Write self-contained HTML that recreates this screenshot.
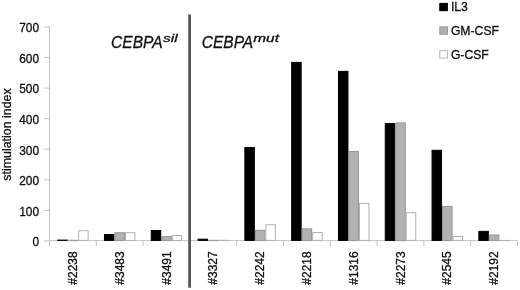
<!DOCTYPE html>
<html><head><meta charset="utf-8"><style>
html,body{margin:0;padding:0;background:#fff;}
body{width:520px;height:290px;overflow:hidden;}
svg{display:block;}
text{font-family:'Liberation Sans', Arial, sans-serif;font-size:12px;fill:#111;stroke:#111;stroke-width:0.3px;}
.t{font-size:12.4px;}
.yl{font-size:11.9px;}
.lg{font-size:12.2px;}
.cl{font-size:12px;}
</style></head><body>
<svg width="520" height="290" viewBox="0 0 520 290">
<rect width="520" height="290" fill="#fff"/>
<line x1="49.5" y1="26.2" x2="49.5" y2="245.9" stroke="#c4c4c4" stroke-width="1"/>
<line x1="44.2" y1="241.00" x2="49.5" y2="241.00" stroke="#c4c4c4" stroke-width="1"/>
<text x="39.0" y="246.30" text-anchor="end" class="yl">0</text>
<line x1="44.2" y1="210.41" x2="49.5" y2="210.41" stroke="#c4c4c4" stroke-width="1"/>
<text x="39.0" y="215.71" text-anchor="end" class="yl">100</text>
<line x1="44.2" y1="179.83" x2="49.5" y2="179.83" stroke="#c4c4c4" stroke-width="1"/>
<text x="39.0" y="185.13" text-anchor="end" class="yl">200</text>
<line x1="44.2" y1="149.24" x2="49.5" y2="149.24" stroke="#c4c4c4" stroke-width="1"/>
<text x="39.0" y="154.54" text-anchor="end" class="yl">300</text>
<line x1="44.2" y1="118.66" x2="49.5" y2="118.66" stroke="#c4c4c4" stroke-width="1"/>
<text x="39.0" y="123.96" text-anchor="end" class="yl">400</text>
<line x1="44.2" y1="88.07" x2="49.5" y2="88.07" stroke="#c4c4c4" stroke-width="1"/>
<text x="39.0" y="93.37" text-anchor="end" class="yl">500</text>
<line x1="44.2" y1="57.49" x2="49.5" y2="57.49" stroke="#c4c4c4" stroke-width="1"/>
<text x="39.0" y="62.79" text-anchor="end" class="yl">600</text>
<line x1="44.2" y1="26.90" x2="49.5" y2="26.90" stroke="#c4c4c4" stroke-width="1"/>
<text x="39.0" y="32.20" text-anchor="end" class="yl">700</text>
<line x1="49.5" y1="240.6" x2="517.50" y2="240.6" stroke="#c4c4c4" stroke-width="1"/>
<line x1="96.30" y1="240.6" x2="96.30" y2="245.9" stroke="#c4c4c4" stroke-width="1"/>
<line x1="143.10" y1="240.6" x2="143.10" y2="245.9" stroke="#c4c4c4" stroke-width="1"/>
<line x1="189.90" y1="240.6" x2="189.90" y2="245.9" stroke="#c4c4c4" stroke-width="1"/>
<line x1="236.70" y1="240.6" x2="236.70" y2="245.9" stroke="#c4c4c4" stroke-width="1"/>
<line x1="283.50" y1="240.6" x2="283.50" y2="245.9" stroke="#c4c4c4" stroke-width="1"/>
<line x1="330.30" y1="240.6" x2="330.30" y2="245.9" stroke="#c4c4c4" stroke-width="1"/>
<line x1="377.10" y1="240.6" x2="377.10" y2="245.9" stroke="#c4c4c4" stroke-width="1"/>
<line x1="423.90" y1="240.6" x2="423.90" y2="245.9" stroke="#c4c4c4" stroke-width="1"/>
<line x1="470.70" y1="240.6" x2="470.70" y2="245.9" stroke="#c4c4c4" stroke-width="1"/>
<line x1="517.50" y1="240.6" x2="517.50" y2="245.9" stroke="#c4c4c4" stroke-width="1"/>
<rect x="57.65" y="240.10" width="9.50" height="0.30" fill="#000000" stroke="#000000" stroke-width="1"/>
<rect x="67.65" y="239.80" width="10.50" height="1.10" fill="#959595"/>
<rect x="78.65" y="230.70" width="9.50" height="9.70" fill="#ffffff" stroke="#b0b0b0" stroke-width="1"/>
<rect x="104.45" y="234.50" width="9.50" height="5.90" fill="#000000" stroke="#000000" stroke-width="1"/>
<rect x="114.95" y="232.70" width="9.50" height="7.70" fill="#b2b2b2" stroke="#959595" stroke-width="1"/>
<rect x="125.45" y="232.70" width="9.50" height="7.70" fill="#ffffff" stroke="#b0b0b0" stroke-width="1"/>
<rect x="151.25" y="230.50" width="9.50" height="9.90" fill="#000000" stroke="#000000" stroke-width="1"/>
<rect x="161.75" y="236.60" width="9.50" height="3.80" fill="#b2b2b2" stroke="#959595" stroke-width="1"/>
<rect x="172.25" y="235.50" width="9.50" height="4.90" fill="#ffffff" stroke="#b0b0b0" stroke-width="1"/>
<rect x="198.05" y="239.20" width="9.50" height="1.20" fill="#000000" stroke="#000000" stroke-width="1"/>
<rect x="208.05" y="239.80" width="10.50" height="1.10" fill="#959595"/>
<rect x="218.55" y="239.80" width="10.50" height="1.10" fill="#b0b0b0"/>
<rect x="244.85" y="147.50" width="9.50" height="92.90" fill="#000000" stroke="#000000" stroke-width="1"/>
<rect x="255.35" y="230.30" width="9.50" height="10.10" fill="#b2b2b2" stroke="#959595" stroke-width="1"/>
<rect x="265.85" y="224.80" width="9.50" height="15.60" fill="#ffffff" stroke="#b0b0b0" stroke-width="1"/>
<rect x="291.65" y="62.40" width="9.50" height="178.00" fill="#000000" stroke="#000000" stroke-width="1"/>
<rect x="302.15" y="228.90" width="9.50" height="11.50" fill="#b2b2b2" stroke="#959595" stroke-width="1"/>
<rect x="312.65" y="232.55" width="9.50" height="7.85" fill="#ffffff" stroke="#b0b0b0" stroke-width="1"/>
<rect x="338.45" y="71.35" width="9.50" height="169.05" fill="#000000" stroke="#000000" stroke-width="1"/>
<rect x="348.95" y="151.56" width="9.50" height="88.84" fill="#b2b2b2" stroke="#959595" stroke-width="1"/>
<rect x="359.45" y="203.40" width="9.50" height="37.00" fill="#ffffff" stroke="#b0b0b0" stroke-width="1"/>
<rect x="385.25" y="123.60" width="9.50" height="116.80" fill="#000000" stroke="#000000" stroke-width="1"/>
<rect x="395.75" y="122.90" width="9.50" height="117.50" fill="#b2b2b2" stroke="#959595" stroke-width="1"/>
<rect x="406.25" y="212.70" width="9.50" height="27.70" fill="#ffffff" stroke="#b0b0b0" stroke-width="1"/>
<rect x="432.05" y="150.30" width="9.50" height="90.10" fill="#000000" stroke="#000000" stroke-width="1"/>
<rect x="442.55" y="206.40" width="9.50" height="34.00" fill="#b2b2b2" stroke="#959595" stroke-width="1"/>
<rect x="453.05" y="236.50" width="9.50" height="3.90" fill="#ffffff" stroke="#b0b0b0" stroke-width="1"/>
<rect x="478.85" y="231.35" width="9.50" height="9.05" fill="#000000" stroke="#000000" stroke-width="1"/>
<rect x="489.35" y="235.00" width="9.50" height="5.40" fill="#b2b2b2" stroke="#959595" stroke-width="1"/>
<rect x="499.35" y="239.90" width="10.50" height="1.00" fill="#b0b0b0"/>
<text transform="translate(77.00,251.3) rotate(-90)" text-anchor="end" class="cl">#2238</text>
<text transform="translate(123.80,251.3) rotate(-90)" text-anchor="end" class="cl">#3483</text>
<text transform="translate(170.60,251.3) rotate(-90)" text-anchor="end" class="cl">#3491</text>
<text transform="translate(217.40,251.3) rotate(-90)" text-anchor="end" class="cl">#3327</text>
<text transform="translate(264.20,251.3) rotate(-90)" text-anchor="end" class="cl">#2242</text>
<text transform="translate(311.00,251.3) rotate(-90)" text-anchor="end" class="cl">#2218</text>
<text transform="translate(357.80,251.3) rotate(-90)" text-anchor="end" class="cl">#1316</text>
<text transform="translate(404.60,251.3) rotate(-90)" text-anchor="end" class="cl">#2273</text>
<text transform="translate(451.40,251.3) rotate(-90)" text-anchor="end" class="cl">#2545</text>
<text transform="translate(498.20,251.3) rotate(-90)" text-anchor="end" class="cl">#2192</text>
<rect x="188.2" y="14.5" width="2.8" height="273.2" fill="#555555"/>
<text transform="translate(11,134.5) rotate(-90)" text-anchor="middle" class="t">stimulation index</text>
<text transform="translate(111.1,47.9) scale(0.94,1)" style="font-style:italic;font-size:16.5px">CEBPA</text>
<text transform="translate(163.1,42.3) scale(1.4,1)" style="font-style:italic;font-size:11px">sil</text>
<text transform="translate(201.8,47.9) scale(0.94,1)" style="font-style:italic;font-size:16.5px">CEBPA</text>
<text transform="translate(253.3,42.4) scale(1.4,1)" style="font-style:italic;font-size:11px">mut</text>
<rect x="439.8" y="3.40" width="7.6" height="7.3" fill="#000000" stroke="#000000" stroke-width="1"/>
<text x="450.9" y="11.10" class="lg">IL3</text>
<rect x="439.8" y="26.90" width="7.6" height="7.3" fill="#b2b2b2" stroke="#959595" stroke-width="1"/>
<text x="450.9" y="35.10" class="lg">GM-CSF</text>
<rect x="439.8" y="50.70" width="7.6" height="7.3" fill="#ffffff" stroke="#b5b5b5" stroke-width="1"/>
<text x="450.9" y="59.10" class="lg">G-CSF</text>
</svg>
</body></html>
